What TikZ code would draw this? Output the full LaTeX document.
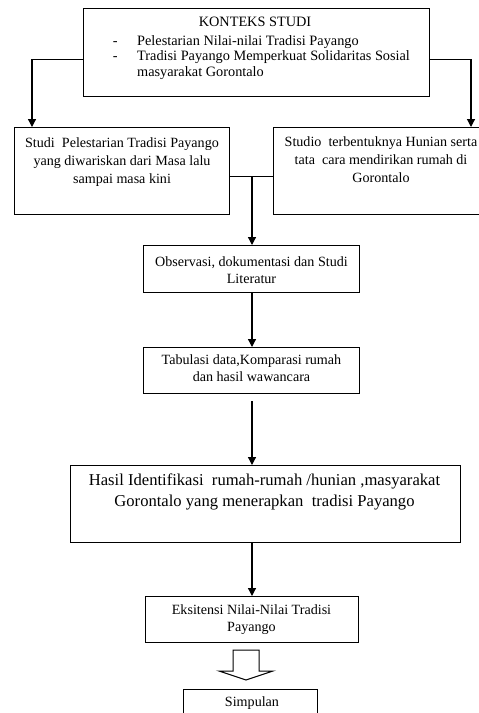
\documentclass[tikz,border=0pt]{standalone}
\usepackage{fontspec}
\setmainfont{Liberation Serif}
\usetikzlibrary{arrows.meta}
\begin{document}
\begin{tikzpicture}[x=1pt,y=-1pt,
  box/.style={draw, line width=1.2pt, inner sep=0pt, anchor=north west},
  txt/.style={inner sep=0pt, align=center, anchor=north, font=\fontsize{14.1}{18}\selectfont},
  conn/.style={line width=1.2pt},
  arr/.style={line width=1.2pt, -{Triangle[length=8pt,width=8pt]}}]
\useasboundingbox (0,0) rectangle (479,713);
\clip (0,0) rectangle (479,713);
% boxes
\node[box, minimum width=346pt, minimum height=88pt] (top) at (83,8) {};
\node[box, minimum width=215pt, minimum height=87pt] (left) at (14,127) {};
\node[box, minimum width=216pt, minimum height=87pt] (right) at (273,127) {};
\node[box, minimum width=216pt, minimum height=47pt] (obs) at (143,245) {};
\node[box, minimum width=216pt, minimum height=46pt] (tab) at (143,347) {};
\node[box, minimum width=390pt, minimum height=77pt] (hasil) at (70,465) {};
\node[box, minimum width=213pt, minimum height=46pt] (eks) at (145,596) {};
\node[box, minimum width=134pt, minimum height=40pt] (simp) at (183,689) {};
% texts
\node[txt, font=\fontsize{14.3}{15}\selectfont] (t0) at (255,16.7) {KONTEKS STUDI};
\node[inner sep=0pt, anchor=north west, align=left, font=\fontsize{14.3}{15.2}\selectfont] (t1) at (112.6,35.6)
  {\makebox[24.4pt][l]{-}Pelestarian Nilai-nilai Tradisi Payango\\
   \makebox[24.4pt][l]{-}Tradisi Payango Memperkuat Solidaritas Sosial\\
   \hspace*{24.4pt}masyarakat Gorontalo};
\node[txt] (t2) at (122,137.8) {Studi\ \ Pelestarian Tradisi Payango\\yang diwariskan dari Masa lalu\\sampai masa kini};
\node[txt] (t3) at (381,137) {Studio\ \ terbentuknya Hunian serta\\tata\ \ cara mendirikan rumah di\\Gorontalo};
\node[txt, font=\fontsize{14.1}{17}\selectfont] (t4) at (251.5,256.8) {Observasi, dokumentasi dan Studi\\Literatur};
\node[txt, font=\fontsize{14.1}{17}\selectfont] (t5) at (251.5,354.8) {Tabulasi data,Komparasi rumah\\dan hasil wawancara};
\node[txt, font=\fontsize{16.6}{21}\selectfont] (t6) at (264.5,473.8) {Hasil Identifikasi\ \ rumah-rumah /hunian ,masyarakat\\Gorontalo yang menerapkan\ \ tradisi Payango};
\node[txt, font=\fontsize{14.1}{17}\selectfont] (t7) at (251.5,604.8) {Eksitensi Nilai-Nilai Tradisi\\Payango};
\node[txt] (t8) at (252,696.8) {Simpulan};
% connectors
\draw[arr] ([yshift=-7pt]top.west) -| ([xshift=18pt]left.north west);
\draw[arr] ([yshift=-7pt]top.east) -| ([xshift=198pt]right.north west);
\draw[conn] ([yshift=-5.5pt]left.east) -- ([yshift=-5.5pt]right.west);
\coordinate (j) at (252,176);
\draw[arr] (j) -- (j |- obs.north);
\draw[arr] (j |- obs.south) -- (j |- tab.north);
\draw[arr] ([yshift=-7pt]j |- tab.south) -- (j |- hasil.north);
\draw[arr] (j |- hasil.south) -- (j |- eks.north);
\draw[line width=1pt] (233,650) -- (259,650) -- (259,671) -- (273,671) -- (246,680) -- (219,671) -- (233,671) -- cycle;
\end{tikzpicture}
\end{document}
